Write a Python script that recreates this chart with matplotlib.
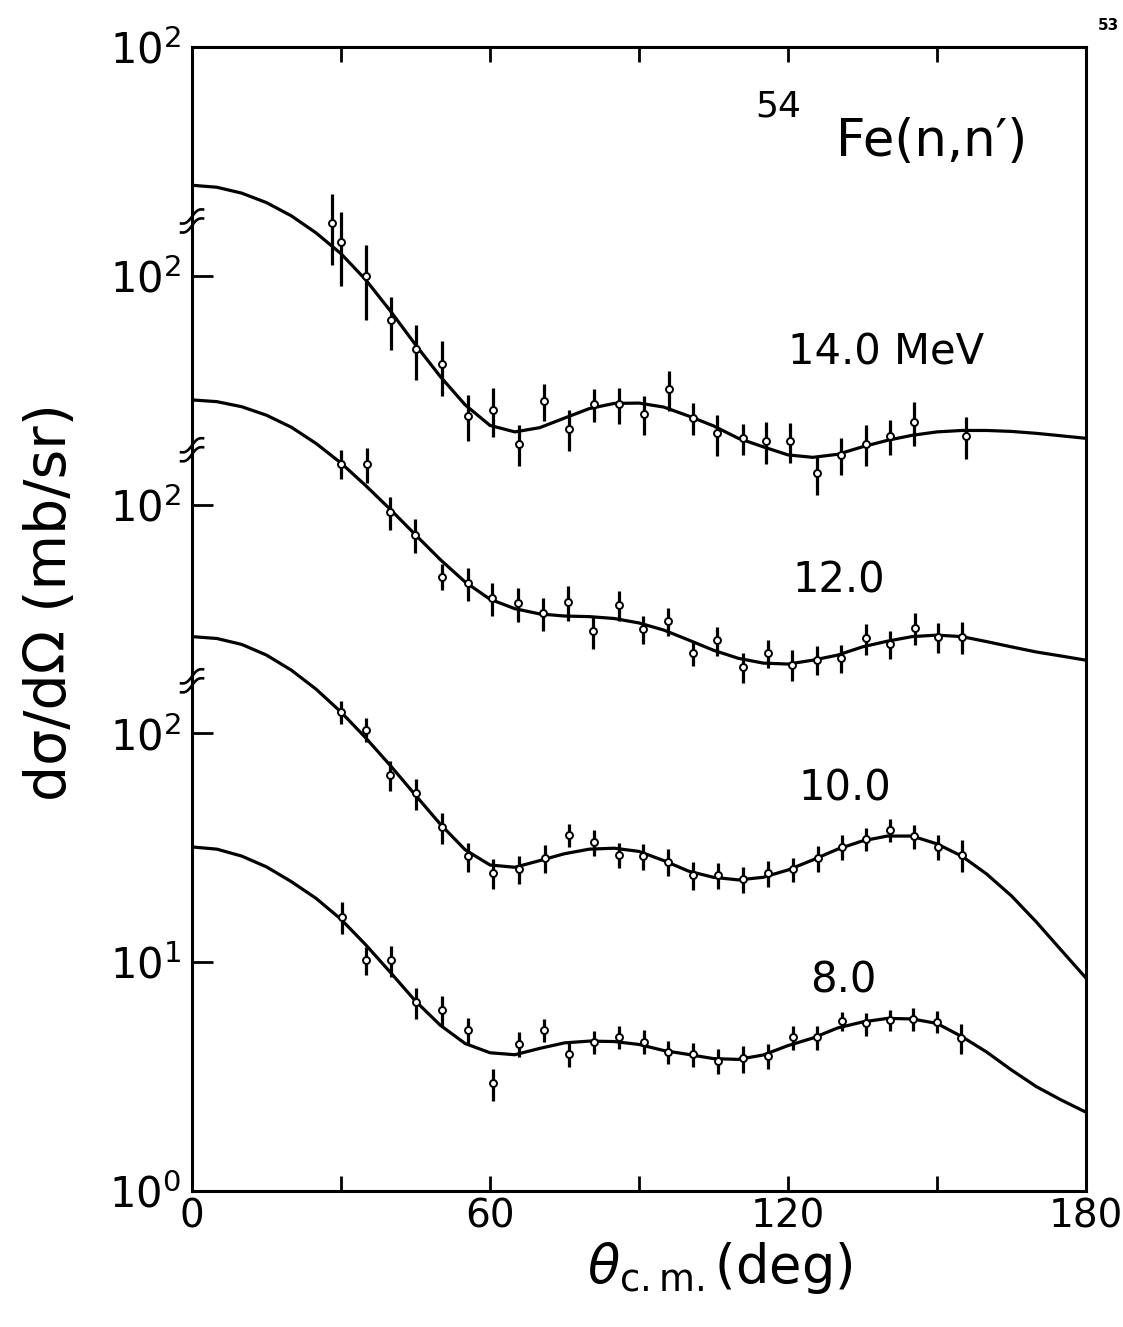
import numpy as np
import matplotlib
matplotlib.use("Agg")
import matplotlib.pyplot as plt
from matplotlib.ticker import NullLocator

# calculated curves, sampled every 5 deg (mb/sr)
theta_curve = np.arange(0, 181, 5)
curve_8 = [31.9, 31.2, 29.1, 26.1, 22.5, 19.0, 15.4, 11.9, 9.0, 6.76, 5.30, 4.41, 4.02,
           3.94, 4.2, 4.44, 4.52, 4.50, 4.37, 4.11, 3.95, 3.79, 3.76, 3.93, 4.32, 4.66,
           5.16, 5.48, 5.68, 5.65, 5.40, 4.73, 4.05, 3.38, 2.86, 2.50, 2.21]
curve_10 = [26.5, 26.0, 24.5, 22.0, 18.9, 15.6, 12.4, 9.55, 7.21, 5.37, 4.01, 3.10, 2.66,
            2.60, 2.78, 2.98, 3.12, 3.15, 3.05, 2.78, 2.50, 2.35, 2.29, 2.35, 2.53, 2.80,
            3.12, 3.39, 3.56, 3.56, 3.29, 2.91, 2.43, 1.95, 1.50, 1.13, 0.853]
curve_12 = [28.7, 28.2, 26.8, 24.6, 21.8, 18.5, 15.2, 12.1, 9.5, 7.38, 5.75, 4.59, 3.86,
            3.51, 3.33, 3.26, 3.24, 3.18, 3.04, 2.83, 2.56, 2.31, 2.13, 2.03, 2.01, 2.09,
            2.20, 2.39, 2.53, 2.65, 2.69, 2.65, 2.52, 2.39, 2.27, 2.18, 2.09]
curve_14 = [24.9, 24.4, 23.0, 20.9, 18.3, 15.4, 12.5, 9.6, 7.0, 5.0, 3.63, 2.73, 2.22,
            2.08, 2.17, 2.39, 2.63, 2.77, 2.78, 2.67, 2.44, 2.21, 1.95, 1.79, 1.65, 1.61,
            1.66, 1.79, 1.91, 2.01, 2.08, 2.11, 2.11, 2.09, 2.05, 2.0, 1.95]

# measured points
theta_8 = [30.1, 35.0, 40.0, 45.1, 50.4, 55.6, 60.7, 65.8, 70.9, 76.0, 80.9, 86.0, 91.0,
           95.9, 100.9, 106.0, 111.0, 116.0, 121.1, 125.8, 130.8, 135.7, 140.5, 145.2, 150.0, 154.8]
sig_8 = [15.8, 10.2, 10.2, 6.7, 6.2, 5.05, 2.95, 4.4, 5.05, 3.95, 4.5, 4.7, 4.5,
         4.05, 3.95, 3.7, 3.8, 3.9, 4.7, 4.7, 5.55, 5.4, 5.6, 5.65, 5.5, 4.65]
err_8 = [2.5, 1.4, 1.6, 1.03, 0.92, 0.64, 0.48, 0.53, 0.57, 0.48, 0.52, 0.54, 0.54,
         0.46, 0.47, 0.47, 0.51, 0.47, 0.56, 0.58, 0.53, 0.62, 0.61, 0.63, 0.61, 0.7]

theta_10 = [29.9, 35.0, 39.9, 45.0, 50.3, 55.6, 60.7, 65.9, 71.1, 76.0, 80.9, 86.0, 90.9,
            95.9, 100.9, 106.0, 111.0, 115.9, 121.1, 126.0, 130.8, 135.8, 140.5, 145.4, 150.3, 155.0]
sig_10 = [12.4, 10.4, 6.6, 5.5, 3.9, 2.9, 2.45, 2.55, 2.85, 3.6, 3.35, 2.95, 2.9,
          2.75, 2.4, 2.4, 2.3, 2.45, 2.55, 2.85, 3.2, 3.45, 3.8, 3.55, 3.2, 2.95]
err_10 = [1.45, 1.25, 1.0, 0.85, 0.6, 0.43, 0.37, 0.36, 0.4, 0.42, 0.44, 0.38, 0.37,
          0.37, 0.33, 0.31, 0.3, 0.31, 0.31, 0.38, 0.4, 0.4, 0.44, 0.44, 0.4, 0.47]

theta_12 = [29.9, 35.2, 39.9, 44.9, 50.3, 55.5, 60.5, 65.7, 70.7, 75.8, 80.8, 86.0, 90.9,
            95.9, 100.8, 105.8, 110.9, 115.9, 120.9, 125.8, 130.7, 135.8, 140.6, 145.6, 150.3, 155.0]
sig_12 = [15.1, 15.0, 9.3, 7.4, 4.85, 4.55, 3.9, 3.7, 3.35, 3.75, 2.8, 3.65, 2.85,
          3.1, 2.25, 2.55, 1.95, 2.25, 2.0, 2.1, 2.13, 2.6, 2.45, 2.9, 2.65, 2.65]
err_12 = [2.15, 2.6, 1.55, 1.23, 0.63, 0.75, 0.63, 0.63, 0.54, 0.64, 0.45, 0.55, 0.4,
          0.44, 0.28, 0.37, 0.29, 0.31, 0.31, 0.3, 0.3, 0.4, 0.34, 0.47, 0.4, 0.42]

theta_14 = [28.1, 29.9, 35.0, 40.0, 45.1, 50.3, 55.6, 60.7, 65.8, 70.9, 75.9, 80.9, 86.0,
            91.0, 96.0, 100.9, 105.8, 110.9, 115.6, 120.4, 125.8, 130.7, 135.8, 140.5, 145.4, 155.8]
sig_14 = [17.0, 14.0, 10.0, 6.4, 4.8, 4.1, 2.45, 2.6, 1.85, 2.85, 2.15, 2.75, 2.75,
          2.5, 3.2, 2.4, 2.05, 1.95, 1.9, 1.9, 1.37, 1.65, 1.85, 2.0, 2.3, 2.0]
err_14 = [5.8, 5.0, 3.6, 1.67, 1.3, 1.1, 0.56, 0.63, 0.38, 0.53, 0.43, 0.45, 0.5,
          0.49, 0.63, 0.38, 0.41, 0.3, 0.4, 0.38, 0.27, 0.3, 0.38, 0.35, 0.5, 0.42]

energies = ["8.0", "10.0", "12.0", "14.0 MeV"]
shift = [1, 10, 100, 1000]   # each set moved up one decade

y_ticks = [1, 10, 100, 1e3, 1e4, 1e5]
y_labels = [r"$10^0$", r"$10^1$", r"$10^2$", r"$10^2$", r"$10^2$", r"$10^2$"]
x_ticks = [0, 30, 60, 90, 120, 150, 180]
x_labels = ["0", "", "60", "", "120", "", "180"]
breaks = [10**2.23, 10**3.24, 10**4.24]

curves = [curve_8, curve_10, curve_12, curve_14]
points = [(theta_8, sig_8, err_8), (theta_10, sig_10, err_10),
          (theta_12, sig_12, err_12), (theta_14, sig_14, err_14)]
label_pos = [(0.691, 0.184), (0.678, 0.352), (0.672, 0.534), (0.667, 0.733)]

fig = plt.figure(figsize=(11.23, 13.27), dpi=100)
ax = fig.add_axes([0.171, 0.1025, 0.796, 0.862])

for c, (th, s, e), f in zip(curves, points, shift):
    ax.plot(theta_curve, np.array(c) * f, color="black", lw=2.3, zorder=2)
    ax.errorbar(th, np.array(s) * f, yerr=np.array(e) * f, fmt="o", ms=5,
                mfc="white", mec="black", mew=1.4, ecolor="black",
                elinewidth=2.3, capsize=0, zorder=3)

for txt, (px, py) in zip(energies, label_pos):
    ax.text(px, py, txt, transform=ax.transAxes, fontsize=30, va="center", ha="left")

ax.text(0.630, 0.948, "54", transform=ax.transAxes, fontsize=26, va="center")
ax.text(0.720, 0.917, "Fe(n,n\u2032)", transform=ax.transAxes, fontsize=37, va="center")

ax.set_yscale("log")
ax.set_xlim(0, 180)
ax.set_ylim(1, 1e5)
ax.set_yticks(y_ticks, y_labels)
ax.yaxis.set_minor_locator(NullLocator())
ax.set_xticks(x_ticks, x_labels)

ax.tick_params(axis="x", direction="in", top=True, length=11, width=2,
               labelsize=28, pad=5)
ax.tick_params(axis="y", direction="in", right=False, length=15, width=2,
               labelsize=30, pad=8)
for sp in ax.spines.values():
    sp.set_linewidth(2.2)

# axis break marks on the left spine
tr = ax.get_yaxis_transform()
t = np.linspace(-1, 1, 15)
for b in breaks:
    for off in (-4.5, 4.5):
        xs = 11 * t / 894
        ys = b * 10 ** ((7 * t + 2.5 * np.sin(np.pi * t) - off) / 228.8)
        ax.plot(xs, ys, color="black", lw=1.9, transform=tr, clip_on=False, zorder=4)

ax.set_ylabel("d\u03c3/d\u03a9 (mb/sr)", fontsize=41)
ax.yaxis.set_label_coords(-0.128, 0.515)
ax.set_xlabel(r"$\theta_{\mathrm{c.m.}}$(deg)", fontsize=38)
ax.xaxis.set_label_coords(0.59, -0.043)

fig.text(0.978, 0.981, "53", fontsize=11, fontweight="bold", va="center")

fig.savefig("out.png", dpi=100)
